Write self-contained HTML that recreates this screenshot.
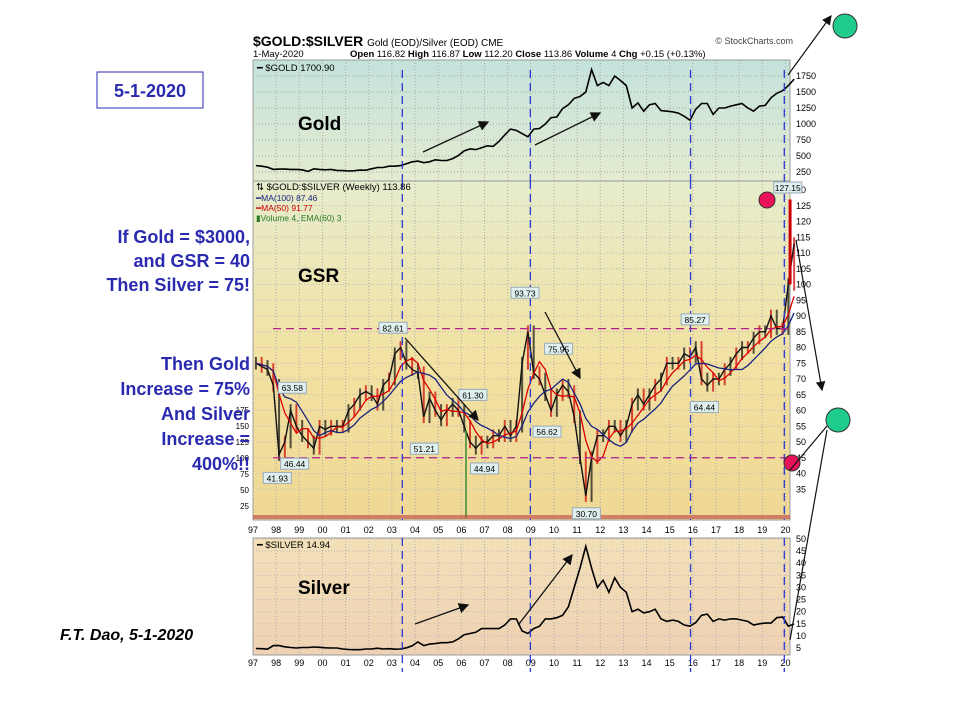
<!DOCTYPE html>
<html><head><meta charset="utf-8"><style>
body{margin:0;background:#fff;width:960px;height:720px;overflow:hidden;font-family:"Liberation Sans",sans-serif}
svg text{font-family:"Liberation Sans",sans-serif}
</style></head><body>
<svg id="c" width="960" height="720">
<defs>
<linearGradient id="gG" x1="0" y1="0" x2="0" y2="1"><stop offset="0" stop-color="#c4e2dc"/><stop offset="1" stop-color="#e4ecd0"/></linearGradient>
<linearGradient id="gR" x1="0" y1="0" x2="0" y2="1"><stop offset="0" stop-color="#e6eccc"/><stop offset="0.5" stop-color="#f2e2a4"/><stop offset="1" stop-color="#f0d894"/></linearGradient>
<linearGradient id="gS" x1="0" y1="0" x2="0" y2="1"><stop offset="0" stop-color="#f2e0b8"/><stop offset="1" stop-color="#efd2b4"/></linearGradient>
<marker id="ah" markerWidth="8" markerHeight="8" refX="7" refY="4" orient="auto"><path d="M0,0 L8,4 L0,8 z" fill="#111"/></marker>
</defs>
<rect x="253" y="60" width="537" height="121" fill="url(#gG)" stroke="#999"/>
<rect x="253" y="181" width="537" height="339" fill="url(#gR)" stroke="#999"/>
<rect x="253" y="538" width="537" height="117" fill="url(#gS)" stroke="#999"/>
<g id="grid"></g>
<g id="marks"></g>
<g id="ann"></g>
<text x="253" y="46" font-size="14" font-weight="bold">$GOLD:$SILVER <tspan font-size="10" font-weight="normal">Gold (EOD)/Silver (EOD) CME</tspan></text>
<text x="793" y="44" font-size="9" fill="#444" text-anchor="end">© StockCharts.com</text>
<text x="253" y="57" font-size="9.5">1-May-2020 <tspan x="350" font-weight="bold">Open</tspan> 116.82 <tspan font-weight="bold">High</tspan> 116.87 <tspan font-weight="bold">Low</tspan> 112.20 <tspan font-weight="bold">Close</tspan> 113.86 <tspan font-weight="bold">Volume</tspan> 4 <tspan font-weight="bold">Chg</tspan> +0.15 (+0.13%)</text>
<text x="257" y="71" font-size="9.5">━ $GOLD 1700.90</text>
<text x="256" y="190" font-size="9.5">⇅ $GOLD:$SILVER (Weekly) 113.86</text>
<text x="256" y="201" font-size="8.5" fill="#1a237e">━MA(100) 87.46</text>
<text x="256" y="211" font-size="8.5" fill="#c00">━MA(50) 91.77</text>
<text x="256" y="221" font-size="8.5" fill="#2a7a2a">▮Volume 4, EMA(60) 3</text>
<text x="257" y="548" font-size="9.5">━ $SILVER 14.94</text>
<text x="298" y="130" font-size="19" font-weight="bold">Gold</text>
<text x="298" y="282" font-size="19" font-weight="bold">GSR</text>
<text x="298" y="594" font-size="19" font-weight="bold">Silver</text>
<rect x="97" y="72" width="106" height="36" fill="#fff" stroke="#2a2ab0"/>
<text x="150" y="97" font-size="18" font-weight="bold" fill="#2a2ab0" text-anchor="middle">5-1-2020</text>
<g font-size="18" font-weight="bold" fill="#2a2ab0" text-anchor="end">
<text x="250" y="243">If Gold = $3000,</text><text x="250" y="267">and GSR = 40</text><text x="250" y="291">Then Silver = 75!</text>
<text x="250" y="370">Then Gold</text><text x="250" y="395">Increase = 75%</text><text x="250" y="420">And Silver</text><text x="250" y="445">Increase =</text><text x="250" y="470">400%!!</text></g>
<text x="60" y="640" font-size="16" font-weight="bold" font-style="italic">F.T. Dao, 5-1-2020</text>
<circle cx="845" cy="26" r="12" fill="#1fcc8c" stroke="#333"/>
<circle cx="838" cy="420" r="12" fill="#1fcc8c" stroke="#333"/>
<circle cx="767" cy="200" r="8" fill="#e8125a" stroke="#333"/>
<circle cx="792" cy="463" r="8" fill="#e8125a" stroke="#333"/>
<line x1="788" y1="75" x2="831" y2="16" stroke="#111" stroke-width="1.2" marker-end="url(#ah)"/>
<line x1="796" y1="240" x2="822" y2="390" stroke="#111" stroke-width="1.2" marker-end="url(#ah)"/>
<line x1="790" y1="470" x2="827" y2="426" stroke="#111" stroke-width="1.2"/>
<line x1="790" y1="640" x2="827" y2="430" stroke="#111" stroke-width="1.2"/>
<g stroke="#111" stroke-width="1.3" marker-end="url(#ah)">
<line x1="423" y1="152" x2="488" y2="122"/><line x1="535" y1="145" x2="600" y2="113"/>
<line x1="405" y1="338" x2="478" y2="420"/><line x1="545" y1="312" x2="580" y2="378"/>
<line x1="415" y1="624" x2="468" y2="605"/><line x1="519" y1="624" x2="572" y2="555"/>
</g>
</svg>
<script>
const years=["97","98","99","00","01","02","03","04","05","06","07","08","09","10","11","12","13","14","15","16","17","18","19","20"];
const goldQ=[350,340,325,290,295,295,290,290,285,260,300,290,285,290,275,272,265,270,280,278,300,320,320,340,340,350,380,410,420,395,410,440,430,430,460,510,580,610,600,630,660,650,730,830,920,900,850,800,920,930,1000,1100,1110,1240,1300,1400,1430,1500,1850,1600,1650,1600,1750,1680,1600,1250,1330,1200,1300,1320,1210,1200,1190,1170,1120,1060,1230,1320,1320,1150,1250,1250,1280,1300,1320,1250,1200,1280,1290,1410,1480,1520,1600,1700];
const gsrQ=[75,74,73,68,46,50,60,55,52,50,48,55,54,55,55,55,60,62,65,66,65,62,68,70,78,80,75,73,72,58,64,60,57,60,62,60,55,50,48,50,50,52,52,55,52,55,75,85,72,70,65,60,65,68,66,58,45,33,45,52,52,55,55,52,55,62,65,62,65,68,70,75,75,75,78,77,80,70,68,70,70,73,75,78,80,80,83,85,85,90,86,86,100,113];
const silverQ=[4.8,4.7,4.5,6,6,5.5,5.2,5,5.2,5.2,5.4,5.3,5.1,5,5,4.6,4.4,4.3,4.3,4.6,4.6,4.9,4.6,4.7,4.5,4.6,5.1,5.9,7.5,6,6.6,6.8,7.2,7.2,7.5,8.8,10.5,11,11.5,13,13,13,13,14.5,17,17,12,11,13,14,17,17,17.5,18.5,22,30,38,47,38,30,33,28,34,30,28,20,21,19.5,20,21,17,16,16.5,16,14.5,14,15.5,18.5,19,16,17,16.5,17,17,16.5,16,14.5,15,15.3,15.3,17.5,17.8,14,14.9];
const goldTicks=[250,500,750,1000,1250,1500,1750];
const gsrTicks=[35,40,45,50,55,60,65,70,75,80,85,90,95,100,105,110,115,120,125];
const silverTicks=[5,10,15,20,25,30,35,40,45,50];
const volTicks=[25,50,75,100,125,150,175];
const peakLabels=["41.93","46.44","63.58","82.61","51.21","61.30","44.94","93.73","56.62","75.95","30.70","85.27","64.44","127.15"];
const peakTimes=[1998.05,1998.8,1998.7,2003.05,2004.4,2006.5,2007.0,2008.75,2009.7,2010.2,2011.4,2016.1,2016.5,2020.1];
const peakVals=[41.93,46.44,63.58,82.61,51.21,61.3,44.94,93.73,56.62,75.95,30.7,85.27,64.44,127.15];
const vLines=[2003.45,2008.98,2015.9,2019.95];
const hLines=[86,45];

const NS="http://www.w3.org/2000/svg";
const xT=t=>253+(t-1997)*23.15;
const yG=v=>172-(v-250)*96/1500;
const yR=v=>190+(130-v)*3.15;
const yS=v=>539+(50-v)*109/45;
const yV=v=>506-(v-25)*96/150;
const tq=i=>1997+i*0.25+0.125;
function mk(tag,attrs,parent){const e=document.createElementNS(NS,tag);for(const k in attrs)e.setAttribute(k,attrs[k]);document.getElementById(parent).appendChild(e);return e;}
function txt(s,attrs,parent){const e=mk('text',attrs,parent);e.textContent=s;return e;}
function pts(arr,yf){return arr.map((v,i)=>xT(tq(i)).toFixed(1)+','+yf(v).toFixed(1)).join(' ');}
function ma(arr,n){return arr.map((v,i)=>{const s=arr.slice(Math.max(0,i-n+1),i+1);return s.reduce((a,b)=>a+b,0)/s.length;});}

years.forEach((y,i)=>{
  const x=xT(1997+i);
  [[60,181],[181,520],[538,655]].forEach(p=>{const l=mk('line',{x1:x,x2:x,y1:p[0],y2:p[1],stroke:'#aaa','stroke-dasharray':'1,2'},'grid');
  
  });
  const a=txt(y,{x:x,y:533,'font-size':9,'text-anchor':'middle'},'grid');
  
  
  const b=txt(y,{x:x,y:666,'font-size':9,'text-anchor':'middle'},'grid');
  
  
});
goldTicks.forEach(v=>{const y=yG(v);
  const l=mk('line',{x1:253,x2:790,y1:y,y2:y,stroke:'#aaa','stroke-dasharray':'1,2'},'grid');
  
  
  const t=txt(v,{x:796,y:y+3,'font-size':9},'grid');
  
  });
gsrTicks.forEach(v=>{const y=yR(v);
  const l=mk('line',{x1:253,x2:790,y1:y,y2:y,stroke:'#bbb','stroke-dasharray':'1,2'},'grid');
  
  
  const t=txt(v,{x:796,y:y+3,'font-size':9},'grid');
  
  });
{const t=txt('30',{x:796,y:yR(130)+3,'font-size':9},'grid');

}
silverTicks.forEach(v=>{const y=yS(v);
  const l=mk('line',{x1:253,x2:790,y1:y,y2:y,stroke:'#bbb','stroke-dasharray':'1,2'},'grid');
  
  
  const t=txt(v,{x:796,y:y+3,'font-size':9},'grid');
  
  });
volTicks.forEach(v=>{const t=txt(v,{x:249,y:yV(v)+3,'font-size':8,'text-anchor':'end'},'grid');
  
  });

gsrQ.forEach((v,i)=>{const prev=i?gsrQ[i-1]:v;const hi=Math.max(v,prev)+2,lo=Math.min(v,prev)-2;const x=xT(tq(i));
  const b=mk('line',{x1:x,x2:x,y1:yR(hi),y2:yR(lo),stroke:i%2?'#c00':'#111','stroke-width':2,opacity:0.7},'marks');
  
  });
const g1=mk('polyline',{points:pts(goldQ,yG),fill:'none',stroke:'#000','stroke-width':1.6},'marks');


const r1=mk('polyline',{points:pts(gsrQ,yR),fill:'none',stroke:'#111','stroke-width':1.4},'marks');


const r2=mk('polyline',{points:pts(ma(gsrQ,4),yR),fill:'none',stroke:'#d00','stroke-width':1.3},'marks');


const r3=mk('polyline',{points:pts(ma(gsrQ,8),yR),fill:'none',stroke:'#1a237e','stroke-width':1.3},'marks');


const s1=mk('polyline',{points:pts(silverQ,yS),fill:'none',stroke:'#000','stroke-width':1.6},'marks');


{const l=mk('line',{x1:xT(2006.2),x2:xT(2006.2),y1:yV(175)+20,y2:518,stroke:'#3a8a3a','stroke-width':1.5},'marks');


const b=mk('rect',{x:253,y:515,width:537,height:4,fill:'#b44',opacity:0.6},'marks');

}
{const l=mk('line',{x1:xT(2020.2),x2:xT(2020.2),y1:yR(127),y2:yR(100),stroke:'#c00','stroke-width':3},'marks');

}
vLines.forEach(t=>{const x=xT(t);
  [[70,181],[181,520],[538,672]].forEach(p=>{const l=mk('line',{x1:x,x2:x,y1:p[0],y2:p[1],stroke:'#2a3ad0','stroke-width':1.3,'stroke-dasharray':'8,5'},'ann');
  
  });});
hLines.forEach(v=>{const l=mk('line',{x1:273,x2:790,y1:yR(v),y2:yR(v),stroke:'#b0208a','stroke-width':1.3,'stroke-dasharray':'8,5'},'ann');
  
  });
peakLabels.forEach((s,i)=>{const x=xT(peakTimes[i]);const v=peakVals[i];const y=yR(v)+(v<50||s==="51.21"||s==="56.62"||s==="64.44"?12:-10);
  const r=mk('rect',{x:x-14,y:y-7,width:28,height:11,fill:'#dff0ee',stroke:'#9ab'},'ann');
  
  
  const t=txt(s,{x:x,y:y+2,'font-size':8.5,'text-anchor':'middle'},'ann');
  
  });
</script>
</body></html>
